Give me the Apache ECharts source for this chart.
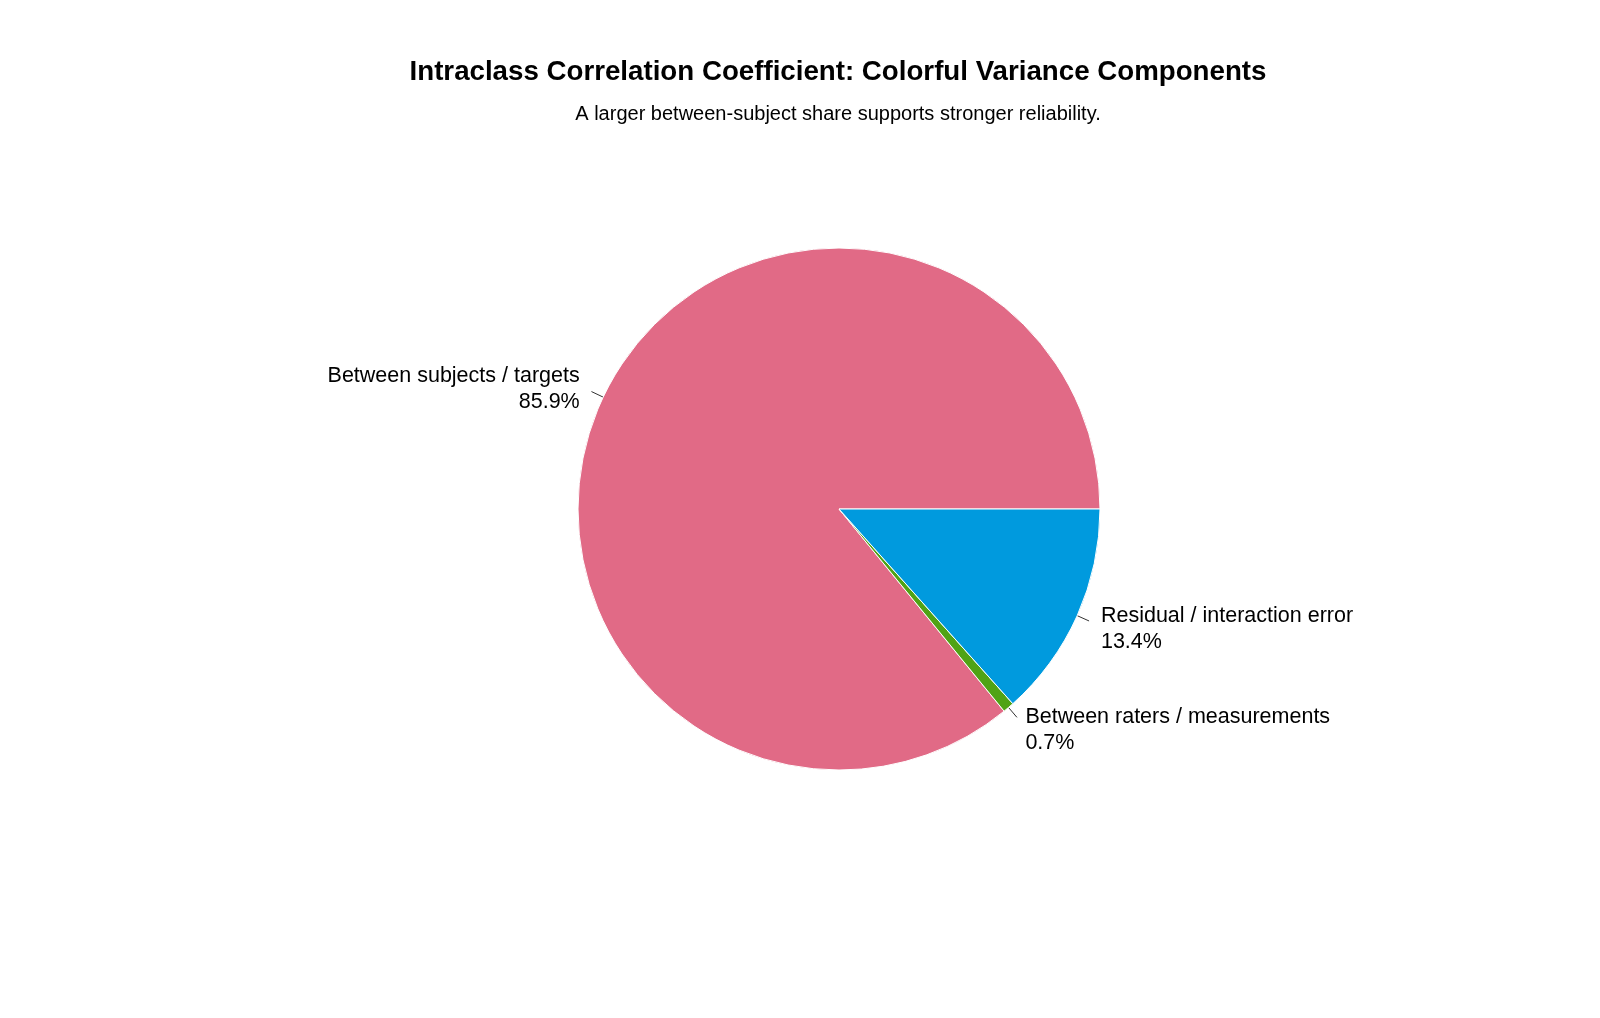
<!DOCTYPE html>
<html>
<head>
<meta charset="utf-8">
<script src="https://cdn.jsdelivr.net/npm/echarts@6/dist/echarts.min.js"></script>
<style>
  html, body { margin: 0; padding: 0; background: #fff; }
  #chart { width: 1600px; height: 1018px; }
</style>
</head>
<body>
<div id="chart"></div>
<script>
// variance components, in percent
const components = ['Between subjects / targets', 'Between raters / measurements', 'Residual / interaction error'];
const shares = [85.9, 0.7, 13.4];
const colors = ['#E16A86', '#50A315', '#009ADE'];

const chart = echarts.init(document.getElementById('chart'));
const font = 'Liberation Sans, Arial, sans-serif';

chart.setOption({
  animation: false,
  backgroundColor: '#ffffff',
  title: {
    text: 'Intraclass Correlation Coefficient: Colorful Variance Components',
    subtext: 'A larger between-subject share supports stronger reliability.',
    left: 833,
    textAlign: 'center',
    top: 53,
    itemGap: 18,
    textStyle: { fontFamily: font, fontSize: 27.7, fontWeight: 'bold', color: '#000' },
    subtextStyle: { fontFamily: font, fontSize: 20, color: '#000' }
  },
  series: [{
    type: 'pie',
    center: [839, 509],
    radius: 261,
    startAngle: 0,
    clockwise: false,
    avoidLabelOverlap: false,
    itemStyle: { borderColor: '#fff', borderWidth: 1 },
    label: {
      position: 'outside',
      fontFamily: font,
      fontSize: 21.5,
      lineHeight: 26,
      color: '#000',
      distanceToLabelLine: 0,
      formatter: p => p.name + '\n' + p.value.toFixed(1) + '%'
    },
    labelLine: {
      show: true,
      length: 13,
      length2: 0,
      lineStyle: { color: '#333', width: 1 }
    },
    // push the text a bit further out along the slice's mid-angle
    labelLayout: function (p) {
      const pts = p.labelLinePoints;
      if (!pts) return {};
      const ux = pts[1][0] - pts[0][0];
      const uy = pts[1][1] - pts[0][1];
      const len = Math.hypot(ux, uy) || 1;
      return { dx: 13 * ux / len, dy: 13 * uy / len + 3, labelLinePoints: pts };
    },
    emphasis: { disabled: true },
    data: components.map((name, i) => ({
      name: name,
      value: shares[i],
      itemStyle: { color: colors[i] }
    }))
  }]
});
</script>
</body>
</html>
